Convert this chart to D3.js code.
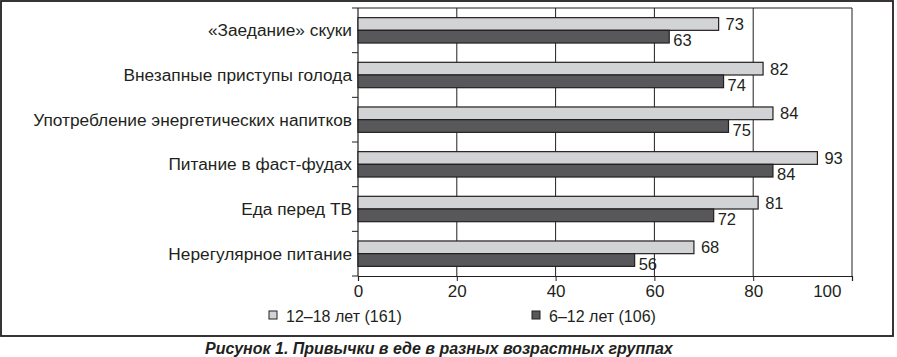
<!DOCTYPE html>
<html><head><meta charset="utf-8">
<script src="https://cdn.jsdelivr.net/npm/d3@7"></script>
<style>
html,body{margin:0;padding:0;background:#fff;}
svg{display:block;}
text{font-family:"Liberation Sans",Arial,sans-serif;fill:#231f20;}
</style></head>
<body>
<svg id="chart" width="897" height="357"></svg>
<script>
const categories = ["«Заедание» скуки","Внезапные приступы голода","Употребление энергетических напитков","Питание в фаст-фудах","Еда перед ТВ","Нерегулярное питание"];
const seriesNames = ["12–18 лет (161)","6–12 лет (106)"];
const teen = [73,82,84,93,81,68];
const kids = [63,74,75,84,72,56];
const xTicks = [0,20,40,60,80,100];
const caption = "Рисунок 1. Привычки в еде в разных возрастных группах";
const colors = ["#d2d3d5","#58585a"];
const ink = "#231f20";

const svg = d3.select("#chart");
const L=358, R=852, T=8, B=276;

// outer frame
svg.append("rect").attr("x",1).attr("y",1).attr("width",892).attr("height",335)
  .attr("fill","none").attr("stroke",ink).attr("stroke-width",1.8);

const x = d3.scaleLinear().domain([0,100]).range([L,R]);
const y = d3.scaleBand().domain(categories).range([T,B]).padding(0);
const ySub = d3.scaleBand().domain([0,1]).range([0,y.bandwidth()]).paddingInner(0).paddingOuter(0.76);

// gridlines
svg.append("g").selectAll("line").data(xTicks.filter(t=>t>0)).join("line")
  .attr("x1",d=>x(d)).attr("x2",d=>x(d)).attr("y1",T).attr("y2",B)
  .attr("stroke",ink).attr("stroke-width",1);
// top border of plot
svg.append("line").attr("x1",L).attr("x2",R).attr("y1",T).attr("y2",T).attr("stroke",ink).attr("stroke-width",1);

// bottom axis
const xAxis = svg.append("g").attr("transform",`translate(0,${B})`)
  .call(d3.axisBottom(x).tickValues(xTicks).tickSize(5).tickPadding(4));
xAxis.select(".domain").attr("stroke",ink).attr("stroke-width",1.2);
xAxis.selectAll(".tick line").attr("stroke",ink);
xAxis.selectAll("text").attr("font-size",17).attr("fill",ink)
  .attr("font-family","'Liberation Sans',Arial,sans-serif");
// last label kept inside the plot edge, as in the original
xAxis.selectAll(".tick text").filter(d=>d===100).attr("text-anchor","end").attr("dx",-11);

// left axis line and boundary ticks
svg.append("line").attr("x1",L).attr("x2",L).attr("y1",T).attr("y2",B).attr("stroke",ink).attr("stroke-width",1.2);
const bounds = categories.map(c=>y(c)).concat([y(categories[categories.length-1])+y.bandwidth()]);
svg.append("g").selectAll("line").data(bounds).join("line")
  .attr("x1",L-6).attr("x2",L).attr("y1",d=>d).attr("y2",d=>d).attr("stroke",ink).attr("stroke-width",1);

// category labels
svg.append("g").selectAll("text").data(categories).join("text")
  .attr("x",L-6).attr("y",c=>y(c)+y.bandwidth()/2)
  .attr("text-anchor","end").attr("dominant-baseline","central")
  .attr("font-size",17.3).text(c=>c);

// bars
const series = [teen,kids];
series.forEach((vals,si)=>{
  const g = svg.append("g");
  g.selectAll("rect").data(vals).join("rect")
    .attr("x",x(0)).attr("y",(v,i)=>y(categories[i])+ySub(si))
    .attr("width",v=>x(v)-x(0)).attr("height",ySub.bandwidth())
    .attr("fill",colors[si]).attr("stroke",ink).attr("stroke-width",1.2);
  g.selectAll("text").data(vals).join("text")
    .attr("x",v=>x(v)+(si===0?7:4))
    .attr("y",(v,i)=>y(categories[i])+ySub(si)+ySub.bandwidth()/2+(si===0?0:3.5))
    .attr("dominant-baseline","central").attr("font-size",16.5).text(v=>v);
});

// legend
const legX = [269,532];
seriesNames.forEach((n,i)=>{
  svg.append("rect").attr("x",legX[i]).attr("y",311).attr("width",8).attr("height",8)
    .attr("fill",colors[i]).attr("stroke",ink).attr("stroke-width",1);
  svg.append("text").attr("x",legX[i]+17).attr("y",316).attr("dominant-baseline","central")
    .attr("font-size",16).text(n);
});

// caption
svg.append("text").attr("x",205).attr("y",348).attr("dominant-baseline","central")
  .attr("font-size",16).attr("font-weight","bold").attr("font-style","italic").text(caption);
</script>
</body></html>
